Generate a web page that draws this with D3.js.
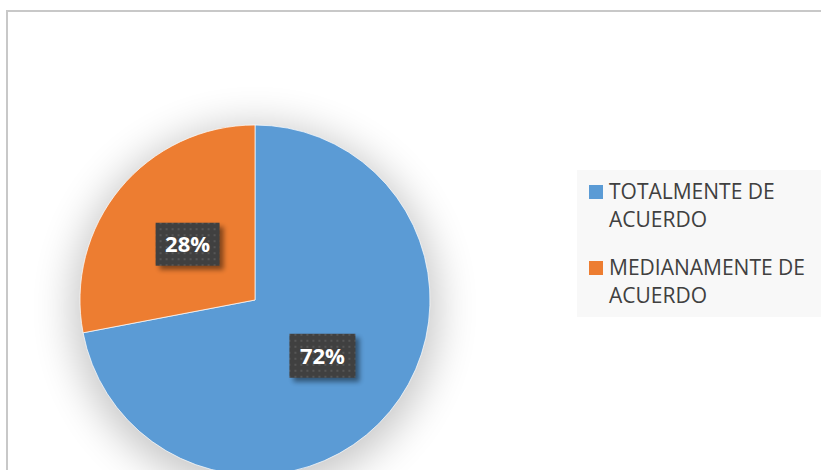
<!DOCTYPE html>
<html><head><meta charset="utf-8">
<script src="https://cdn.jsdelivr.net/npm/d3@7"></script>
<style>html,body{margin:0;padding:0;background:#fff;overflow:hidden}</style>
</head><body>
<svg id="c" width="821" height="470"></svg>
<script>
const categories = ["TOTALMENTE DE ACUERDO", "MEDIANAMENTE DE ACUERDO"];
const legendLines = [["TOTALMENTE DE", "ACUERDO"], ["MEDIANAMENTE DE", "ACUERDO"]];
const values = [72, 28];
const labels = ["72%", "28%"];
const colors = ["#5b9bd5", "#ed7d31"];

const svg = d3.select("#c");
const defs = svg.append("defs");
const glow = defs.append("filter").attr("id","glow").attr("x","-50%").attr("y","-50%").attr("width","200%").attr("height","200%");
glow.append("feGaussianBlur").attr("stdDeviation",20);
const bs = defs.append("filter").attr("id","bs").attr("x","-30%").attr("y","-30%").attr("width","160%").attr("height","160%");
bs.append("feGaussianBlur").attr("stdDeviation",2.5);
const pat = defs.append("pattern").attr("id","dots").attr("patternUnits","userSpaceOnUse").attr("width",6).attr("height",6);
pat.append("rect").attr("width",6).attr("height",6).attr("fill","#404040");
pat.append("rect").attr("x",2).attr("y",2).attr("width",2).attr("height",2).attr("fill","#565656");

// chart border
svg.append("rect").attr("x",7).attr("y",11).attr("width",900).attr("height",600)
  .attr("fill","#fff").attr("stroke","#c8c8c8").attr("stroke-width",2);

const cx = 255, cy = 300, r = 175;
const g = svg.append("g").attr("transform",`translate(${cx},${cy})`);
g.append("circle").attr("cx",0).attr("cy",8).attr("r",r+8).attr("fill","#000").attr("opacity",0.22).attr("filter","url(#glow)");

const pie = d3.pie().sort(null).value(d=>d);
const arcs = pie(values);
const arc = d3.arc().innerRadius(0).outerRadius(r);
g.selectAll("path.s").data(arcs).join("path").attr("class","s")
  .attr("d",arc).attr("fill",(d,i)=>colors[i]).attr("stroke","#fff").attr("stroke-width",0.7);

const lab = d3.arc().innerRadius(0).outerRadius(r);
const bw = [66, 64], bh = [44, 43];
arcs.forEach((d,i)=>{
  const [x,y] = lab.centroid(d);
  const lg = g.append("g").attr("transform",`translate(${x},${y})`);
  lg.append("rect").attr("x",-bw[i]/2+4).attr("y",-bh[i]/2+4).attr("width",bw[i]).attr("height",bh[i])
    .attr("fill","#000").attr("opacity",0.45).attr("filter","url(#bs)");
  lg.append("rect").attr("x",-bw[i]/2).attr("y",-bh[i]/2).attr("width",bw[i]).attr("height",bh[i]).attr("fill","url(#dots)");
  lg.append("text").attr("text-anchor","middle").attr("dy","0.36em")
    .attr("font-family","'Open Sans', sans-serif").attr("font-weight","bold").attr("font-size",22)
    .attr("fill","#fff").text(labels[i]);
});

// legend
svg.append("rect").attr("x",577).attr("y",170).attr("width",250).attr("height",147).attr("fill","#f8f8f8");
const ly = [199, 275];
categories.forEach((c,i)=>{
  svg.append("rect").attr("x",589).attr("y",ly[i]-14).attr("width",14).attr("height",14).attr("fill",colors[i]);
  const t = svg.append("text").attr("x",609).attr("y",ly[i]).attr("font-family","'Open Sans', sans-serif")
    .attr("font-size",21).attr("fill","#404040");
  legendLines[i].forEach((l,j)=>t.append("tspan").attr("x",609).attr("dy",j?28:0).text(l));
});
</script>
</body></html>
